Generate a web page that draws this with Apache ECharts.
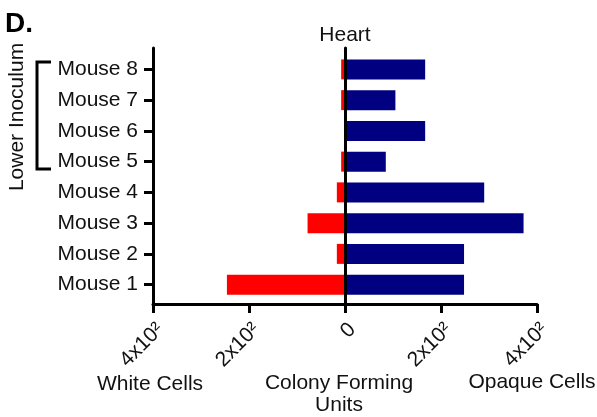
<!DOCTYPE html>
<html>
<head>
<meta charset="utf-8">
<script src="https://cdn.jsdelivr.net/npm/echarts@6/dist/echarts.min.js"></script>
<style>
html,body{margin:0;padding:0;background:#fff;}
#c{width:597px;height:417px;}
</style>
</head>
<body>
<div id="c"></div>
<script>
const categories = ['Mouse 1','Mouse 2','Mouse 3','Mouse 4','Mouse 5','Mouse 6','Mouse 7','Mouse 8'];
const whiteCells = [-246, -17, -78, -17, -8, 0, -8, -8];
const opaqueCells = [248, 248, 372, 290, 85, 167, 105, 167];
const xTickLabels = {'-400':'4x10\u00B2','-200':'2x10\u00B2','0':'0','200':'2x10\u00B2','400':'4x10\u00B2'};

const FONT = 'Liberation Sans, Arial, sans-serif';
const FS = 21;
const chart = echarts.init(document.getElementById('c'), null, {renderer:'canvas'});
chart.setOption({
  animation:false,
  backgroundColor:'#fff',
  textStyle:{fontFamily:FONT},
  grid:[
    {left:153, right:60, top:54, bottom:117, containLabel:false},
    {left:153, right:60, top:48, bottom:113, containLabel:false}
  ],
  xAxis:[
    {gridIndex:0, type:'value', min:-400, max:400, interval:200, offset:4,
     axisLine:{show:true, onZero:false, lineStyle:{color:'#000', width:3}},
     axisTick:{show:true, length:9, lineStyle:{color:'#000', width:3}},
     splitLine:{show:false},
     axisLabel:{rotate:45, margin:15, align:'right', verticalAlign:'top', fontSize:FS, color:'#111', fontFamily:FONT,
       formatter:function(v){return xTickLabels[String(v)];}}},
    {gridIndex:1, type:'value', min:-400, max:400, show:false}
  ],
  yAxis:[
    {gridIndex:0, type:'category', data:categories,
     axisLine:{show:false, onZero:false},
     axisTick:{show:true, alignWithLabel:true, length:9, lineStyle:{color:'#000', width:3}},
     axisLabel:{margin:15, fontSize:FS, color:'#111', fontFamily:FONT},
     splitLine:{show:false}},
    {gridIndex:1, type:'value', min:0, max:1, position:'left',
     axisLine:{show:true, onZero:false, lineStyle:{color:'#000', width:3}},
     axisTick:{show:false}, axisLabel:{show:false}, splitLine:{show:false}},
    {gridIndex:1, type:'value', min:0, max:1, z:10,
     axisLine:{show:true, onZero:true, lineStyle:{color:'#000', width:3}},
     axisTick:{show:false}, axisLabel:{show:false}, splitLine:{show:false}}
  ],
  series:[
    {name:'White Cells', type:'bar', xAxisIndex:0, yAxisIndex:0, data:whiteCells,
     barWidth:20, barGap:'-100%', itemStyle:{color:'#ff0000'}},
    {name:'Opaque Cells', type:'bar', xAxisIndex:0, yAxisIndex:0, data:opaqueCells,
     barWidth:20, barGap:'-100%', itemStyle:{color:'#000080'}}
  ],
  graphic:[
    {type:'text', left:5, top:10, style:{text:'D.', font:'bold 28px '+FONT, fill:'#000'}},
    {type:'text', x:345, y:35, style:{text:'Heart', font:FS+'px '+FONT, fill:'#111', textAlign:'center', textVerticalAlign:'middle'}},
    {type:'text', x:17, y:117, rotation:Math.PI/2, style:{text:'Lower Inoculum', font:FS+'px '+FONT, fill:'#111', textAlign:'center', textVerticalAlign:'middle'}},
    {type:'polyline', shape:{points:[[51,62],[37,62],[37,169],[51,169]]}, style:{stroke:'#000', lineWidth:3, fill:null}},
    {type:'text', x:150, y:384, style:{text:'White Cells', font:FS+'px '+FONT, fill:'#111', textAlign:'center', textVerticalAlign:'middle'}},
    {type:'text', x:339, y:383, style:{text:'Colony Forming', font:FS+'px '+FONT, fill:'#111', textAlign:'center', textVerticalAlign:'middle'}},
    {type:'text', x:339, y:405, style:{text:'Units', font:FS+'px '+FONT, fill:'#111', textAlign:'center', textVerticalAlign:'middle'}},
    {type:'text', x:532, y:382, style:{text:'Opaque Cells', font:FS+'px '+FONT, fill:'#111', textAlign:'center', textVerticalAlign:'middle'}}
  ]
});
</script>
</body>
</html>
